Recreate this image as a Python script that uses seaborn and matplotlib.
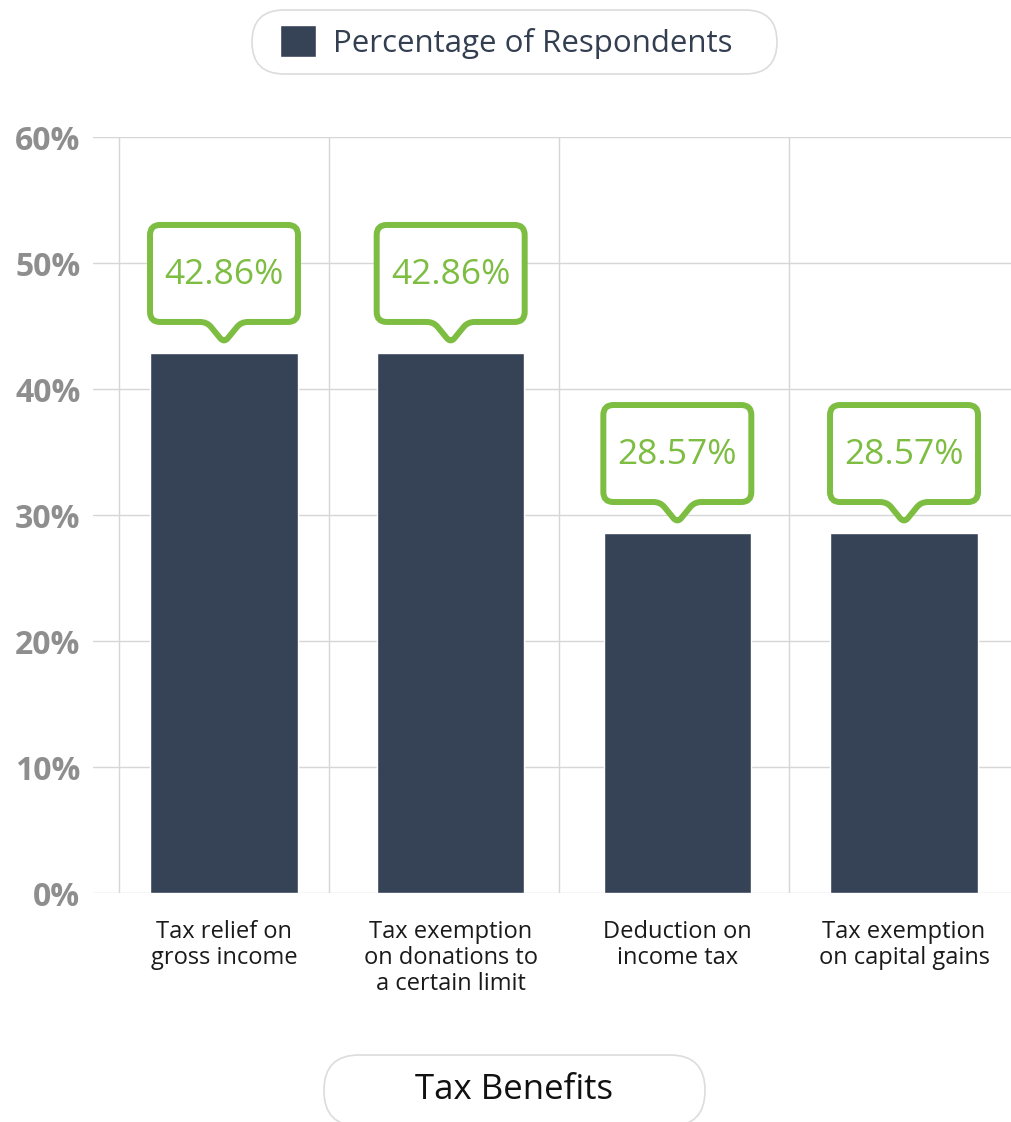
import matplotlib
matplotlib.use("Agg")
import matplotlib.pyplot as plt
import matplotlib.transforms as mtransforms
from matplotlib.path import Path
from matplotlib.patches import PathPatch, FancyBboxPatch
import seaborn as sns
import pandas as pd

categories = ["Tax relief on\ngross income",
              "Tax exemption\non donations to\na certain limit",
              "Deduction on\nincome tax",
              "Tax exemption\non capital gains"]
values = [42.86, 42.86, 28.57, 28.57]
yticks = [0, 10, 20, 30, 40, 50, 60]
ytick_labels = ["0%", "10%", "20%", "30%", "40%", "50%", "60%"]
series_name = "Percentage of Respondents"
axis_title = "Tax Benefits"

BAR = "#364256"
GREEN = "#7dbd42"
GRID = "#d6d6d6"

sns.set_theme(style="white")
plt.rcParams['font.family'] = ['Open Sans', 'DejaVu Sans']

W, H = 1011, 1122
fig = plt.figure(figsize=(W / 100, H / 100), dpi=100)
ax = fig.add_axes([93 / W, (H - 893) / H, (W - 93) / W, (893 - 137) / H])

df = pd.DataFrame({"cat": categories, "val": values})
sns.barplot(data=df, x="cat", y="val", color=BAR, saturation=1, width=0.65,
            ax=ax, label=series_name, zorder=3)
handles, labels = ax.get_legend_handles_labels()
if ax.get_legend() is not None:
    ax.get_legend().remove()

ax.set_xlim(-0.578, 3.472)
ax.set_ylim(0, 60)
ax.set_yticks(yticks)
ax.set_yticklabels(ytick_labels, fontsize=23, fontweight="bold", color="#8e8e8e")
ax.tick_params(axis="y", length=0, pad=9)
ax.tick_params(axis="x", length=0, pad=19.5, labelsize=17, colors="#1a1a1a")
for lab in ax.get_xticklabels():
    lab.set_linespacing(1.12)
ax.set_xticks([-0.463, 0.463, 1.478, 2.493], minor=True)
ax.tick_params(axis="x", which="minor", length=0)
ax.grid(axis="y", which="major", color=GRID, linewidth=1.0, zorder=0)
ax.grid(axis="x", which="minor", color=GRID, linewidth=1.0, zorder=0)
ax.grid(axis="x", which="major", visible=False)
for s in ax.spines.values():
    s.set_visible(False)
ax.set_ylabel("")
ax.set_xlabel(axis_title, fontsize=25, color="#111111")
ax.xaxis.set_label_coords(514 / W, (H - 1090) / H, transform=fig.transFigure)
ax.xaxis.label.set_va("center")

# callout boxes
tip, base, top, hw, r = 13, 31, 128, 74, 10
verts = [(-hw + r, base), (-24, base), (-17, base), (-13, base - 5), (-4, tip + 2),
         (0, tip - 3), (4, tip + 2), (13, base - 5), (17, base), (24, base),
         (hw - r, base), (hw, base), (hw, base + r), (hw, top - r), (hw, top),
         (hw - r, top), (-hw + r, top), (-hw, top), (-hw, top - r), (-hw, base + r),
         (-hw, base), (-hw + r, base), (-hw + r, base)]
codes = [Path.MOVETO, Path.LINETO, Path.CURVE3, Path.CURVE3, Path.LINETO,
         Path.CURVE3, Path.CURVE3, Path.LINETO, Path.CURVE3, Path.CURVE3,
         Path.LINETO, Path.CURVE3, Path.CURVE3, Path.LINETO, Path.CURVE3,
         Path.CURVE3, Path.LINETO, Path.CURVE3, Path.CURVE3, Path.LINETO,
         Path.CURVE3, Path.CURVE3, Path.CLOSEPOLY]
callout = Path(verts, codes)
for i, v in enumerate(values):
    tr = mtransforms.Affine2D() + mtransforms.ScaledTranslation(i, v, ax.transData)
    patch = PathPatch(callout, transform=tr, facecolor="white", edgecolor=GREEN,
                      linewidth=4.3, joinstyle="round", zorder=5, clip_on=False)
    ax.add_artist(patch)
    ax.annotate(f"{v:.2f}%", xy=(i, v), xytext=(0, (base + top) / 2 * 0.72 - 1),
                textcoords="offset points", ha="center", va="center",
                fontsize=25.5, color=GREEN, zorder=6)

# pill frames for legend and axis title
ident = mtransforms.IdentityTransform()
fig.add_artist(FancyBboxPatch((252, H - 74), 525, 64,
                              boxstyle="round,pad=0,rounding_size=32",
                              transform=ident, facecolor="none",
                              edgecolor="#dcdcdc", linewidth=1.2, zorder=-1))
fig.add_artist(FancyBboxPatch((324, H - 1126), 381, 71,
                              boxstyle="round,pad=0,rounding_size=35",
                              transform=ident, facecolor="none",
                              edgecolor="#dcdcdc", linewidth=1.2, zorder=-1))

leg = fig.legend(handles, labels, loc="center",
                 bbox_to_anchor=(506 / W, (H - 42) / H), frameon=False,
                 borderpad=0, handlelength=1.15, handleheight=1.19,
                 handletextpad=0.55, fontsize=22.5, labelcolor="#333f50")
leg.set_zorder(10)

fig.savefig("out.png", dpi=100)
